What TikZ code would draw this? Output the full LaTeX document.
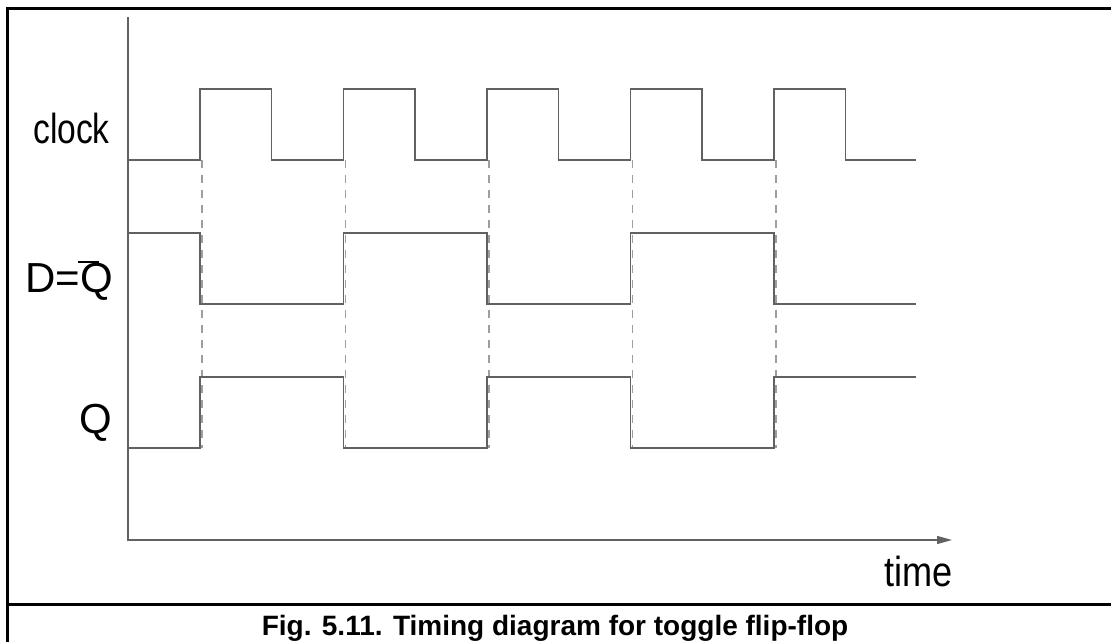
\documentclass[tikz,border=0pt]{standalone}
\usepackage{fontspec}
\setmainfont{Liberation Sans}
\usetikzlibrary{arrows.meta}
\begin{document}
\begin{tikzpicture}[x=1pt,y=-1pt,
  sig/.style={draw=black!62, line width=1.3pt},
  guide/.style={draw=black!38, line width=1.3pt, dash pattern=on 8pt off 7pt},
  axisline/.style={draw=black!62, line width=1.3pt},
  frame/.style={draw=black, line width=3pt},
  lbl/.style={inner sep=0pt, font=\fontsize{42}{42}\selectfont},
  captext/.style={inner sep=0pt, font=\fontsize{28}{28}\selectfont\bfseries}]
\useasboundingbox (0,0) rectangle (1111,642);
% frame
\draw[frame] (7,642) -- (7,9) -- (1111,9);
\draw[frame] (7,604) -- (1111,604);
% axes
\coordinate (origin) at (128,540);
\coordinate (ytop) at (128,17);
\coordinate (xend) at (952,540);
\draw[axisline, -{Triangle[length=15pt,width=8pt]}] (ytop) -- (origin) -- (xend);
% guides
\foreach \x in {202,345.5,489,632.5,776}
  \draw[guide] (\x,160) -- (\x,448);
% clock
\draw[sig] (128,160) -| (200,89) -| (271.5,160) -| (343.5,89) -| (415,160) -| (487,89) -| (558.5,160) -| (630.5,89) -| (702,160) -| (774,89) -| (845.5,160) -- (916,160);
% D = not Q
\draw[sig] (128,233) -| (200,304) -| (343.5,233) -| (487,304) -| (630.5,233) -| (774,304) -- (916,304);
% Q
\draw[sig] (128,448) -| (200,377) -| (343.5,448) -| (487,377) -| (630.5,448) -| (774,377) -- (916,377);
% labels
\node[lbl, anchor=base west] (lclock) at (33,143) {\scalebox{0.8}[1]{clock}};
\node[lbl, anchor=base west] (ld) at (25,292) {D=Q};
\coordinate (barl) at (78,262);
\coordinate (barr) at (99,262);
\draw[black, line width=2.6pt] (barl) -- (barr);
\node[lbl, anchor=base east] (lq) at (112,433) {Q};
\node[lbl, anchor=base west] (ltime) at (884,586) {\scalebox{0.86}[1]{time}};
\node[captext] (caption) at (555,628) {Fig. 5.11. Timing diagram for toggle flip-flop};
\end{tikzpicture}
\end{document}
